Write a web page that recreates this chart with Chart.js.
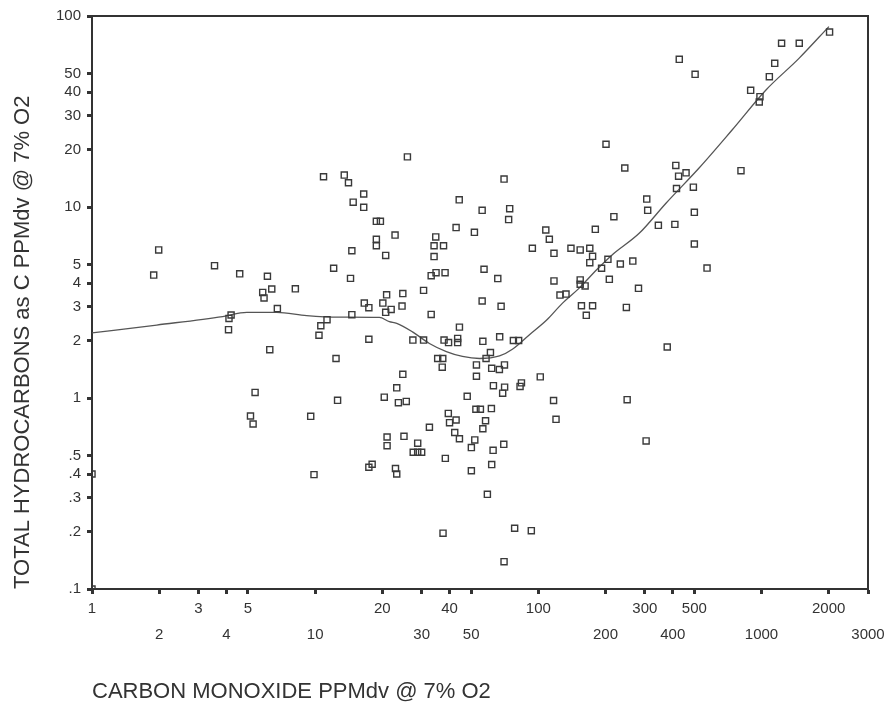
<!DOCTYPE html>
<html>
<head>
<meta charset="utf-8">
<title>Total hydrocarbons vs carbon monoxide</title>
<script src="https://cdn.jsdelivr.net/npm/chart.js@4.4.1/dist/chart.umd.min.js"></script>
<style>
  html, body { margin: 0; padding: 0; background: #ffffff; }
  #wrap { width: 890px; height: 708px; }
</style>
</head>
<body>
<div id="wrap"><canvas id="c" width="890" height="708"></canvas></div>
<script>
// ---- axis ticks ----
const X_TICKS = [1, 2, 3, 4, 5, 10, 20, 30, 40, 50, 100, 200, 300, 400, 500, 1000, 2000, 3000];
const X_TICK_LABELS = ['1', '2', '3', '4', '5', '10', '20', '30', '40', '50', '100', '200', '300', '400', '500', '1000', '2000', '3000'];
const Y_TICKS = [0.1, 0.2, 0.3, 0.4, 0.5, 1, 2, 3, 4, 5, 10, 20, 30, 40, 50, 100];
const Y_TICK_LABELS = ['.1', '.2', '.3', '.4', '.5', '1', '2', '3', '4', '5', '10', '20', '30', '40', '50', '100'];
const X_TITLE = 'CARBON MONOXIDE PPMdv @ 7% O2';
const Y_TITLE = 'TOTAL HYDROCARBONS as C PPMdv @ 7% O2';

// ---- observations: CO (x) and THC (y) ----
const CO_PPM = [
  1, 1, 1.89, 1.99, 3.54, 4.59, 4.2, 4.11, 4.09, 6.11,
  6.39, 5.82, 5.9, 6.77, 6.26, 8.15, 5.38, 5.13, 5.27, 9.55,
  12.6, 9.88, 20.4, 21, 21, 17.4, 18, 10.9, 13.5, 14.1,
  16.5, 14.8, 16.5, 18.8, 19.6, 18.8, 18.8, 14.6, 20.7, 12.1,
  14.4, 20.9, 20.1, 20.7, 16.6, 17.4, 14.6, 11.3, 10.6, 10.4,
  17.4, 12.4, 25.9, 70.2, 44.2, 56, 74.4, 73.6, 42.8, 51.7,
  22.8, 34.7, 34.1, 37.6, 34.1, 33.1, 34.8, 38.2, 57.1, 65.8,
  30.6, 24.7, 21.9, 24.5, 56, 68.1, 33.1, 44.3, 27.4, 30.6,
  37.8, 39.6, 43.5, 43.5, 56.4, 67.1, 77.3, 81.6, 35.4, 37.3,
  37.1, 61, 58.3, 52.8, 61.8, 66.9, 70.5, 52.8, 102, 24.7,
  23.2, 23.6, 25.6, 48, 62.9, 70.6, 69.2, 82.8, 84, 117,
  250, 39.5, 40, 42.8, 32.5, 25, 28.8, 27.5, 28.8, 30,
  42.2, 44.3, 38.3, 22.9, 23.2, 52.5, 55, 61.6, 58, 56.4,
  51.9, 50.1, 62.7, 70, 61.8, 50.1, 59.1, 120, 37.4, 78.3,
  93, 70.2, 244, 218, 180, 108, 112, 94, 117.5, 140,
  154, 170, 175, 170, 205, 192, 233, 265, 208, 117.5,
  154, 154, 162, 125, 133, 156, 175, 164, 248, 281,
  428, 504, 1230, 1476, 2018, 1146, 1084, 894, 984, 977,
  201, 413, 425, 459, 416, 495, 809, 306, 309, 345,
  409, 500, 500, 570, 378, 304
];
const THC_PPM = [
  0.40, 0.10, 4.4, 5.96, 4.93, 4.47, 2.72, 2.61, 2.28, 4.34,
  3.72, 3.57, 3.34, 2.94, 1.79, 3.73, 1.07, 0.805, 0.731, 0.802,
  0.972, 0.397, 1.01, 0.625, 0.563, 0.434, 0.45, 14.4, 14.7, 13.4,
  11.7, 10.6, 9.96, 8.41, 8.41, 6.78, 6.27, 5.9, 5.58, 4.78,
  4.23, 3.47, 3.14, 2.81, 3.14, 2.97, 2.73, 2.57, 2.39, 2.13,
  2.03, 1.61, 18.3, 14.0, 10.9, 9.61, 9.8, 8.59, 7.8, 7.37,
  7.13, 6.97, 6.27, 6.27, 5.5, 4.37, 4.53, 4.53, 4.72, 4.22,
  3.66, 3.52, 2.91, 3.03, 3.22, 3.02, 2.74, 2.35, 2.01, 2.01,
  2.01, 1.95, 2.05, 1.95, 1.98, 2.09, 2.0, 2.0, 1.61, 1.61,
  1.45, 1.73, 1.61, 1.49, 1.43, 1.41, 1.49, 1.30, 1.29, 1.33,
  1.13, 0.945, 0.96, 1.02, 1.16, 1.14, 1.06, 1.15, 1.2, 0.97,
  0.98, 0.83, 0.743, 0.767, 0.703, 0.63, 0.58, 0.52, 0.52, 0.52,
  0.66, 0.612, 0.483, 0.427, 0.40, 0.873, 0.873, 0.88, 0.76, 0.69,
  0.603, 0.55, 0.532, 0.572, 0.448, 0.416, 0.313, 0.773, 0.196, 0.208,
  0.202, 0.139, 16.0, 8.9, 7.64, 7.58, 6.78, 6.08, 5.72, 6.08,
  5.96, 6.08, 5.52, 5.11, 5.32, 4.78, 5.03, 5.21, 4.18, 4.10,
  4.15, 3.94, 3.86, 3.46, 3.5, 3.04, 3.04, 2.71, 2.98, 3.75,
  59.3, 49.5, 72, 72, 82.4, 56.5, 48.1, 40.8, 37.8, 35.5,
  21.3, 16.5, 14.5, 15.1, 12.5, 12.7, 15.5, 11.0, 9.61, 8.02,
  8.11, 9.38, 6.4, 4.79, 1.85, 0.596
];

// ---- smoothed fit line ----
const FIT_CO = [1, 1.95, 3.85, 4.94, 6.73, 9.16, 12.9, 19.4, 21.5, 23.2, 27.3, 32.5, 38.7, 45.7, 54.5, 67, 76.5, 91, 109, 128, 152, 182, 214, 283, 374, 525, 738, 1047, 1472, 2004];
const FIT_THC = [2.19, 2.41, 2.67, 2.81, 2.81, 2.70, 2.65, 2.64, 2.51, 2.46, 2.22, 1.93, 1.75, 1.65, 1.61, 1.66, 1.80, 2.14, 2.56, 3.13, 3.75, 4.68, 5.61, 7.28, 10.5, 16.0, 25.3, 41, 60, 88];

const FONT = "'Liberation Sans', Arial, Helvetica, sans-serif";
const INK = '#333333';

const framePlugin = {
  id: 'frame',
  beforeDraw(chart) {
    const ctx = chart.ctx;
    ctx.save();
    ctx.fillStyle = '#ffffff';
    ctx.fillRect(0, 0, chart.width, chart.height);
    ctx.restore();
  },
  beforeDatasetsDraw(chart) {
    const { ctx, chartArea: a } = chart;
    ctx.save();
    ctx.strokeStyle = INK;
    ctx.lineWidth = 2;
    ctx.beginPath();
    ctx.moveTo(a.left, a.top);
    ctx.lineTo(a.right, a.top);
    ctx.lineTo(a.right, a.bottom);
    ctx.stroke();
    ctx.restore();
  }
};

const points = CO_PPM.map((x, i) => ({ x: x, y: THC_PPM[i] }));
const fit = FIT_CO.map((x, i) => ({ x: x, y: FIT_THC[i] }));

new Chart(document.getElementById('c'), {
  type: 'scatter',
  data: {
    datasets: [
      {
        label: 'Observations',
        data: points,
        pointStyle: 'rect',
        pointRadius: 4.3,
        pointHoverRadius: 4.3,
        borderColor: '#3a3a3a',
        backgroundColor: 'rgba(0,0,0,0)',
        borderWidth: 1.4
      },
      {
        label: 'Smoothed fit',
        data: fit,
        showLine: true,
        pointRadius: 0,
        pointHoverRadius: 0,
        borderColor: '#555555',
        borderWidth: 1.3,
        cubicInterpolationMode: 'monotone',
        fill: false
      }
    ]
  },
  options: {
    responsive: false,
    animation: false,
    devicePixelRatio: 1,
    layout: { padding: { top: 16, right: 22, bottom: 0, left: 0 } },
    plugins: { legend: { display: false }, tooltip: { enabled: false } },
    scales: {
      x: {
        type: 'logarithmic',
        position: 'bottom',
        min: 1,
        max: 3000,
        afterBuildTicks(s) { s.ticks = X_TICKS.map(v => ({ value: v })); },
        afterFit(s) { s.height = 119; },
        grid: { drawOnChartArea: false, drawTicks: true, tickLength: 5, tickWidth: 3, tickColor: INK },
        border: { display: true, color: INK, width: 2 },
        ticks: {
          autoSkip: false, maxRotation: 0, minRotation: 0, padding: 1.5, color: INK,
          font: { family: FONT, size: 15, lineHeight: 1.733 },
          callback(v) {
            const i = X_TICKS.indexOf(v);
            if (i < 0) return '';
            return i % 2 === 0 ? [X_TICK_LABELS[i], ''] : ['', X_TICK_LABELS[i]];
          }
        },
        title: {
          display: true, text: X_TITLE, align: 'start', color: INK,
          font: { family: FONT, size: 22, lineHeight: 1.2 },
          padding: { top: 0, bottom: 2.8 }
        }
      },
      y: {
        type: 'logarithmic',
        position: 'left',
        min: 0.1,
        max: 100,
        afterBuildTicks(s) { s.ticks = Y_TICKS.map(v => ({ value: v })); },
        afterFit(s) { s.width = 92; },
        grid: { drawOnChartArea: false, drawTicks: true, tickLength: 5, tickWidth: 3, tickColor: INK },
        border: { display: true, color: INK, width: 2 },
        ticks: {
          autoSkip: false, padding: 6, color: INK,
          font: { family: FONT, size: 15 },
          callback(v) {
            const i = Y_TICKS.indexOf(v);
            return i < 0 ? '' : Y_TICK_LABELS[i];
          }
        },
        title: {
          display: true, text: Y_TITLE, align: 'start', color: INK,
          font: { family: FONT, size: 22, lineHeight: 1.2 },
          padding: { top: 9.3, bottom: 0 }
        }
      }
    }
  },
  plugins: [framePlugin]
});
</script>
</body>
</html>
